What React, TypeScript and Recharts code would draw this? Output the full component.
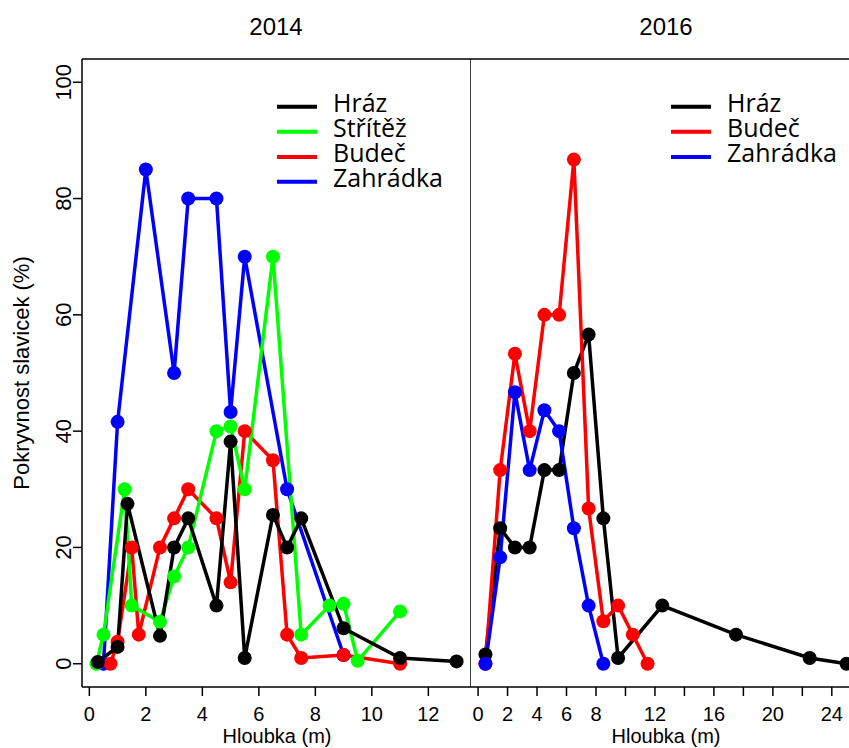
import React from 'react';
import { LineChart, Line, XAxis, YAxis, ReferenceLine } from 'recharts';

// ---------- data ----------
const seriesNames2014 = ['Hráz', 'Střítěž', 'Budeč', 'Zahrádka'];
const seriesNames2016 = ['Hráz', 'Budeč', 'Zahrádka'];

const hraz2014Depth = [0.3, 1, 1.35, 2.5, 3, 3.5, 4.5, 5, 5.5, 6.5, 7, 7.5, 9, 11, 13];
const hraz2014Cover = [0.3, 2.9, 27.5, 4.8, 20, 25, 10, 38.2, 1, 25.6, 20, 25, 6.1, 1, 0.4];

const stritez2014Depth = [0.25, 0.5, 1.25, 1.5, 2.5, 3, 3.5, 4.5, 5, 5.5, 6.5, 7.5, 8.5, 9, 9.5, 11];
const stritez2014Cover = [0, 5, 30, 10, 7.2, 15, 20, 40, 40.8, 30, 70, 5, 10, 10.3, 0.5, 9];

const budec2014Depth = [0.75, 1, 1.5, 1.75, 2.5, 3, 3.5, 4.5, 5, 5.5, 6.5, 7, 7.5, 9, 11];
const budec2014Cover = [0, 3.8, 20, 5, 20, 25, 30, 25, 14, 40, 35, 5, 1, 1.5, 0];

const zahradka2014Depth = [0.5, 1, 2, 3, 3.5, 4.5, 5, 5.5, 7, 9];
const zahradka2014Cover = [0, 41.6, 85, 50, 80, 80, 43.3, 70, 30, 1.5];

const hraz2016Depth = [0.5, 1.5, 2.5, 3.5, 4.5, 5.5, 6.5, 7.5, 8.5, 9.5, 12.5, 17.5, 22.5, 25];
const hraz2016Cover = [1.6, 23.3, 20, 20, 33.3, 33.3, 50, 56.6, 25, 1, 10, 5, 1, 0];

const budec2016Depth = [0.5, 1.5, 2.5, 3.5, 4.5, 5.5, 6.5, 7.5, 8.5, 9.5, 10.5, 11.5];
const budec2016Cover = [0, 33.3, 53.3, 40, 60, 60, 86.7, 26.7, 7.3, 10, 5, 0];

const zahradka2016Depth = [0.5, 1.5, 2.5, 3.5, 4.5, 5.5, 6.5, 7.5, 8.5];
const zahradka2016Cover = [0, 18.3, 46.7, 33.3, 43.6, 40, 23.3, 10, 0];

const yTicks = [0, 20, 40, 60, 80, 100];
const xTicks2014 = [0, 2, 4, 6, 8, 10, 12];
const xTicks2016 = [0, 2, 4, 6, 8, 10, 12, 14, 16, 18, 20, 22, 24];
const xLabels2016 = [0, 2, 4, 6, 8, 12, 16, 20, 24];

const titles = ['2014', '2016'];
const yTitle = 'Pokryvnost slavicek (%)';
const xTitle = 'Hloubka (m)';

// ---------- styles ----------
const FONT = '"Liberation Sans", Arial, sans-serif';
const LEGEND_FONT = '"Open Sans", sans-serif';
const COLORS: Record<string, string> = {
  'Hráz': '#000000',
  'Střítěž': '#00ff00',
  'Budeč': '#ff0000',
  'Zahrádka': '#0000ff',
};

const pts = (xs: number[], ys: number[]) => xs.map((x, i) => ({ x, y: ys[i] }));

const YTick = (props: any) => {
  const { x, y, payload } = props;
  return (
    <text
      x={x}
      y={y}
      transform={`rotate(-90, ${x}, ${y})`}
      textAnchor="middle"
      fontSize={22}
      fontFamily={FONT}
      fill="#000"
    >
      {payload.value}
    </text>
  );
};

const axisStroke = { stroke: '#000', strokeWidth: 1.5 };

const series = (name: string, data: { x: number; y: number }[]) => (
  <Line
    key={name}
    name={name}
    data={data}
    dataKey="y"
    type="linear"
    stroke={COLORS[name]}
    strokeWidth={3.5}
    dot={{ r: 7, fill: COLORS[name], stroke: COLORS[name], strokeWidth: 0 }}
    activeDot={false}
    isAnimationActive={false}
  />
);

const Legend2 = ({ names, lineX, textX, ys }: { names: string[]; lineX: number; textX: number; ys: number[] }) => (
  <g>
    {names.map((n, i) => (
      <g key={n}>
        <line x1={lineX} x2={lineX + 40} y1={ys[i]} y2={ys[i]} stroke={COLORS[n]} strokeWidth={4} />
        <text x={textX} y={ys[i] + 5} fontFamily={LEGEND_FONT} fontSize={25} fill="#000">
          {n}
        </text>
      </g>
    ))}
  </g>
);

export default function App() {
  const legendYs = [106.7, 131.7, 157, 181.7];
  return (
    <div
      style={{
        position: 'absolute',
        left: 0,
        top: 0,
        width: 849,
        height: 748,
        overflow: 'hidden',
        background: '#fff',
      }}
    >
      <div style={{ position: 'absolute', left: 0, top: 0 }}>
        <LineChart width={471} height={748} margin={{ top: 59, right: 0, bottom: 0, left: 0 }}>
          <XAxis
            type="number"
            dataKey="x"
            domain={[-0.26, 13.51]}
            ticks={xTicks2014}
            interval={0}
            allowDataOverflow
            height={61}
            tickSize={9}
            tickMargin={11}
            axisLine={axisStroke}
            tickLine={axisStroke}
            tick={{ fill: '#000', fontSize: 20, fontFamily: FONT }}
          />
          <YAxis
            type="number"
            domain={[-4, 104]}
            ticks={yTicks}
            interval={0}
            allowDataOverflow
            width={82}
            tickSize={9}
            tickMargin={2}
            axisLine={axisStroke}
            tickLine={axisStroke}
            tick={<YTick />}
          />
          <ReferenceLine y={104} stroke="#000" strokeWidth={1.5} />
          <ReferenceLine x={13.51} stroke="#000" strokeWidth={1.5} />
          {series('Zahrádka', pts(zahradka2014Depth, zahradka2014Cover))}
          {series('Budeč', pts(budec2014Depth, budec2014Cover))}
          {series('Střítěž', pts(stritez2014Depth, stritez2014Cover))}
          {series('Hráz', pts(hraz2014Depth, hraz2014Cover))}
        </LineChart>
      </div>
      <div style={{ position: 'absolute', left: 471, top: 0 }}>
        <LineChart width={390} height={748} margin={{ top: 59, right: 0, bottom: 0, left: 0 }}>
          <XAxis
            type="number"
            dataKey="x"
            domain={[-0.48, 25.98]}
            ticks={xTicks2016}
            interval={0}
            allowDataOverflow
            height={61}
            tickSize={9}
            tickMargin={11}
            axisLine={axisStroke}
            tickLine={axisStroke}
            tick={{ fill: '#000', fontSize: 20, fontFamily: FONT }}
            tickFormatter={(v: number) => (xLabels2016.includes(v) ? String(v) : '')}
          />
          <YAxis type="number" domain={[-4, 104]} hide allowDataOverflow />
          <ReferenceLine y={104} stroke="#000" strokeWidth={1.5} />
          {series('Hráz', pts(hraz2016Depth, hraz2016Cover))}
          {series('Budeč', pts(budec2016Depth, budec2016Cover))}
          {series('Zahrádka', pts(zahradka2016Depth, zahradka2016Cover))}
        </LineChart>
      </div>
      <svg
        width={849}
        height={748}
        style={{ position: 'absolute', left: 0, top: 0, pointerEvents: 'none' }}
      >
        <text x={276} y={35} textAnchor="middle" fontFamily={FONT} fontSize={24} fill="#000">
          {titles[0]}
        </text>
        <text x={666} y={35} textAnchor="middle" fontFamily={FONT} fontSize={24} fill="#000">
          {titles[1]}
        </text>
        <text
          x={29}
          y={373}
          transform="rotate(-90, 29, 373)"
          textAnchor="middle"
          fontFamily={FONT}
          fontSize={22}
          fill="#000"
        >
          {yTitle}
        </text>
        <text x={277} y={743} textAnchor="middle" fontFamily={FONT} fontSize={20} fill="#000">
          {xTitle}
        </text>
        <text x={666} y={743} textAnchor="middle" fontFamily={FONT} fontSize={20} fill="#000">
          {xTitle}
        </text>
        <Legend2 names={seriesNames2014} lineX={277} textX={333} ys={legendYs} />
        <Legend2 names={seriesNames2016} lineX={671} textX={727} ys={legendYs} />
      </svg>
    </div>
  );
}
